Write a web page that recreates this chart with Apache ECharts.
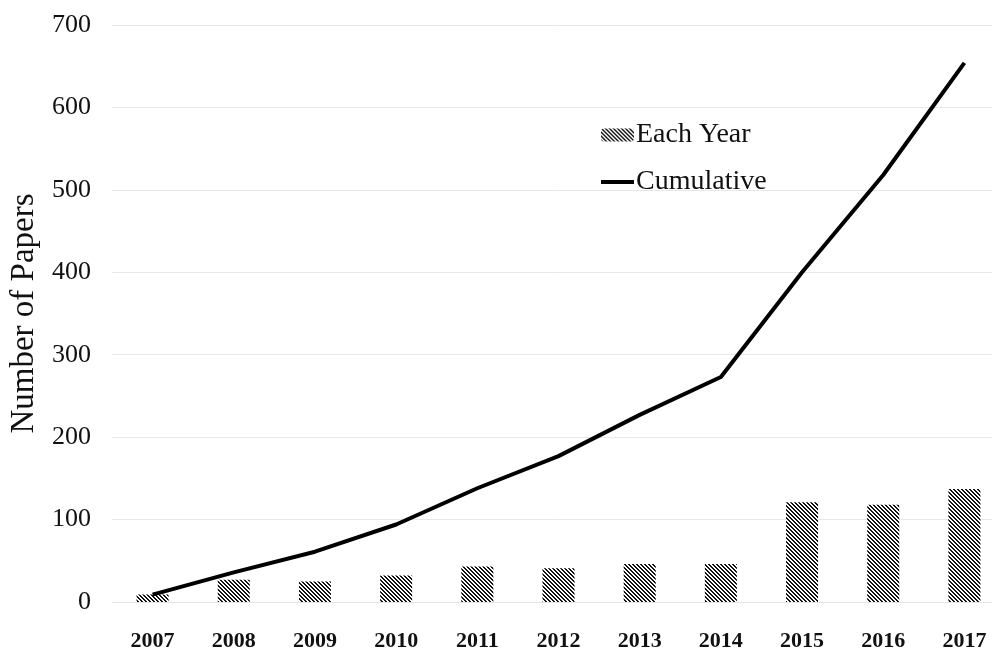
<!DOCTYPE html>
<html>
<head>
<meta charset="utf-8">
<script src="https://cdn.jsdelivr.net/npm/echarts@6/dist/echarts.min.js"></script>
<style>
html,body{margin:0;padding:0;background:#fff;overflow:hidden;}
#chart{width:1005px;height:652px;}
</style>
</head>
<body>
<div id="chart"></div>
<script>
const years = ['2007','2008','2009','2010','2011','2012','2013','2014','2015','2016','2017'];
const eachYear = [9, 27, 25, 32, 43, 41, 46, 46, 121, 118, 137];
const cumulative = [9, 36, 61, 94, 138, 177, 227, 273, 400, 518, 654];
const yTicks = [0, 100, 200, 300, 400, 500, 600, 700];

function makeHatch() {
  const c = document.createElement('canvas');
  c.width = 4; c.height = 4;
  const ctx = c.getContext('2d');
  const img = ctx.createImageData(4, 4);
  for (let y = 0; y < 4; y++) {
    for (let x = 0; x < 4; x++) {
      const d = ((x - y) % 4 + 4) % 4;
      const v = (d === 0 || d === 1) ? 20 : 255;
      const i = (y * 4 + x) * 4;
      img.data[i] = v; img.data[i+1] = v; img.data[i+2] = v; img.data[i+3] = 255;
    }
  }
  ctx.putImageData(img, 0, 0);
  return c;
}

const chart = echarts.init(document.getElementById('chart'));
const serif = '"Liberation Serif", "Times New Roman", serif';
chart.setOption({
  backgroundColor: '#fff',
  animation: false,
  grid: { left: 111, top: 25, right: 0, bottom: 45.3, containLabel: false },
  legend: {
    orient: 'vertical',
    left: 596,
    top: 116,
    itemWidth: 33,
    itemHeight: 13,
    itemGap: 19,
    symbolKeepAspect: true,
    textStyle: { fontFamily: serif, fontSize: 28, color: '#111', padding: [0, 0, 0, -3] },
    data: [
      { name: 'Each Year' },
      { name: 'Cumulative', icon: 'path://M0,0H33V4H0Z' }
    ]
  },
  xAxis: {
    type: 'category',
    data: years,
    axisLine: { show: true, lineStyle: { color: '#e4e4e4', width: 1 } },
    axisTick: { show: false },
    axisLabel: { fontFamily: serif, fontSize: 22, fontWeight: 'bold', color: '#111', margin: 28 }
  },
  yAxis: {
    type: 'value',
    min: yTicks[0],
    max: yTicks[yTicks.length - 1],
    interval: 100,
    name: 'Number of Papers',
    nameLocation: 'middle',
    nameGap: 71,
    nameTextStyle: { fontFamily: serif, fontSize: 33, color: '#111' },
    axisLine: { show: false },
    axisTick: { show: false },
    axisLabel: { fontFamily: serif, fontSize: 26, color: '#111', margin: 21, padding: [9, 0, 0, 0] },
    splitLine: { lineStyle: { color: '#e8e8e8', width: 1 } }
  },
  series: [
    {
      name: 'Each Year',
      type: 'bar',
      data: eachYear,
      barWidth: 32,
      itemStyle: { color: { image: makeHatch(), repeat: 'repeat' } }
    },
    {
      name: 'Cumulative',
      type: 'line',
      data: cumulative,
      symbol: 'none',
      lineStyle: { color: '#000', width: 4 },
      itemStyle: { color: '#000' }
    }
  ]
});
</script>
</body>
</html>
